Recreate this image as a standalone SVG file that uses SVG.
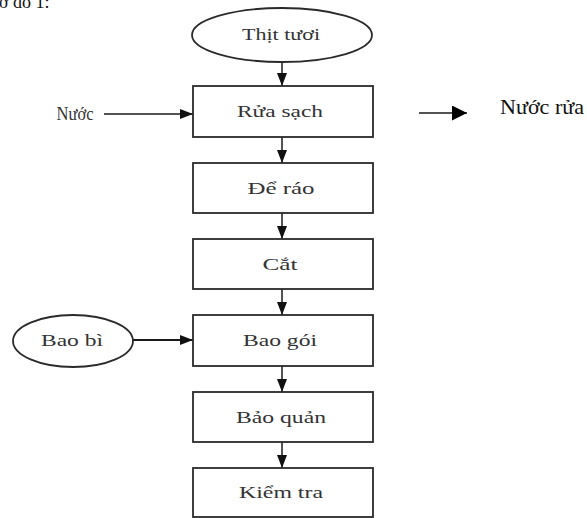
<svg xmlns="http://www.w3.org/2000/svg" width="587" height="518" viewBox="0 0 587 518">
<style>
.box{fill:#fff;stroke:#2a2a2a;stroke-width:1.8}
.lbl{font-family:"Liberation Serif","Times New Roman",serif;font-size:17px;fill:#333;text-anchor:middle}
.side{font-family:"Liberation Serif","Times New Roman",serif;font-size:21px;fill:#111}
.conn{stroke:#1a1a1a;stroke-width:1.5;fill:none}
</style>
<defs>
<marker id="ah" markerUnits="userSpaceOnUse" markerWidth="13" markerHeight="10" refX="13" refY="5" orient="auto">
<path d="M0,0 L13,5 L0,10 z" fill="#111"/>
</marker>
<marker id="ahBig" markerUnits="userSpaceOnUse" markerWidth="15" markerHeight="15" refX="15" refY="7.5" orient="auto">
<path d="M0,0 L15,7.5 L0,15 z" fill="#000"/>
</marker>
</defs>
<rect width="587" height="518" fill="#fff"/>
<text class="side" x="-11" y="8" style="font-size:18px">Sơ đồ 1:</text>

<g id="connectors">
<line class="conn" x1="282" y1="62" x2="282" y2="86" marker-end="url(#ah)"/>
<line class="conn" x1="282" y1="137" x2="282" y2="163" marker-end="url(#ah)"/>
<line class="conn" x1="282" y1="213" x2="282" y2="239" marker-end="url(#ah)"/>
<line class="conn" x1="282" y1="289" x2="282" y2="315" marker-end="url(#ah)"/>
<line class="conn" x1="282" y1="366" x2="282" y2="392" marker-end="url(#ah)"/>
<line class="conn" x1="282" y1="442" x2="282" y2="468" marker-end="url(#ah)"/>
<line class="conn" x1="104" y1="114" x2="193" y2="114" marker-end="url(#ah)"/>
<line class="conn" x1="133" y1="340" x2="193" y2="340" style="stroke-width:2" marker-end="url(#ah)"/>
<line class="conn" x1="419" y1="113" x2="467" y2="113" marker-end="url(#ahBig)"/>
</g>

<g id="thit-tuoi">
<ellipse class="box" cx="282" cy="35" rx="90" ry="27"/>
<text class="lbl" x="281" y="40" textLength="78" lengthAdjust="spacingAndGlyphs">Thịt tươi</text>
</g>
<g id="nuoc">
<text class="lbl" x="75" y="120" style="font-size:19px" textLength="37" lengthAdjust="spacingAndGlyphs">Nước</text>
</g>
<g id="rua-sach">
<rect class="box" x="193" y="86" width="180" height="51"/>
<text class="lbl" x="280" y="117" textLength="86" lengthAdjust="spacingAndGlyphs">Rửa sạch</text>
</g>
<g id="nuoc-rua">
<text class="side" x="500" y="114" textLength="84" lengthAdjust="spacingAndGlyphs">Nước rửa</text>
</g>
<g id="de-rao">
<rect class="box" x="193" y="163" width="180" height="50"/>
<text class="lbl" x="281" y="194" textLength="67" lengthAdjust="spacingAndGlyphs">Để ráo</text>
</g>
<g id="cat">
<rect class="box" x="193" y="239" width="180" height="50"/>
<text class="lbl" x="280" y="270" textLength="35" lengthAdjust="spacingAndGlyphs">Cắt</text>
</g>
<g id="bao-bi">
<ellipse class="box" cx="73" cy="341" rx="60" ry="26"/>
<text class="lbl" x="72" y="346" textLength="62" lengthAdjust="spacingAndGlyphs">Bao bì</text>
</g>
<g id="bao-goi">
<rect class="box" x="193" y="315" width="180" height="51"/>
<text class="lbl" x="280" y="346" textLength="74" lengthAdjust="spacingAndGlyphs">Bao gói</text>
</g>
<g id="bao-quan">
<rect class="box" x="193" y="392" width="180" height="50"/>
<text class="lbl" x="281" y="423" textLength="90" lengthAdjust="spacingAndGlyphs">Bảo quản</text>
</g>
<g id="kiem-tra">
<rect class="box" x="193" y="468" width="180" height="49"/>
<text class="lbl" x="281" y="498" textLength="84" lengthAdjust="spacingAndGlyphs">Kiểm tra</text>
</g>
</svg>
